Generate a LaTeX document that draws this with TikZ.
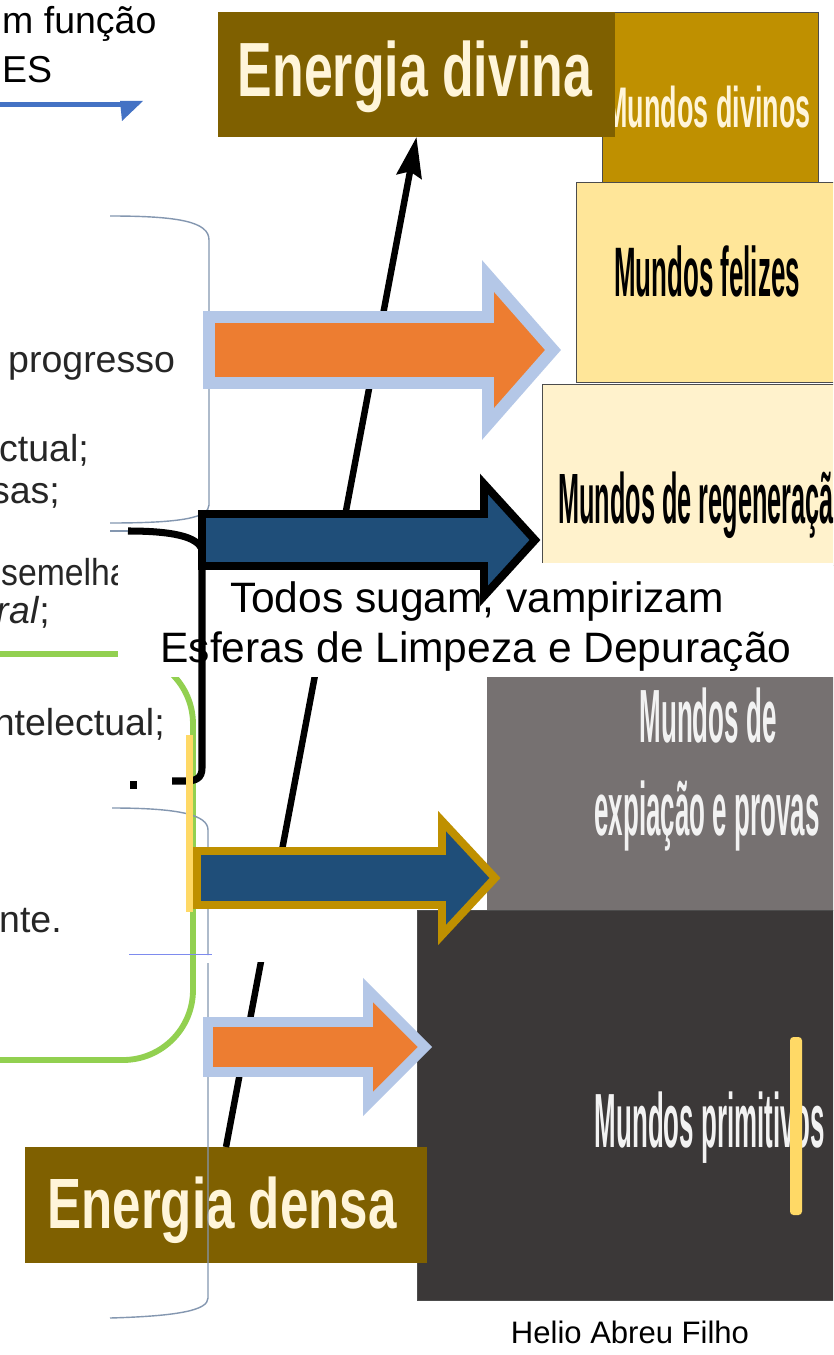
\documentclass[tikz,border=0pt]{standalone}
\usepackage{fontspec}
\setmainfont{Liberation Sans}
\usepackage{graphicx}
\usetikzlibrary{arrows.meta}

\definecolor{brownbox}{HTML}{7F6000}
\definecolor{goldbox}{HTML}{BF9000}
\definecolor{happybox}{HTML}{FFE699}
\definecolor{regenbox}{HTML}{FFF2CC}
\definecolor{expiabox}{HTML}{767171}
\definecolor{primbox}{HTML}{3B3838}
\definecolor{cream}{HTML}{FFF5D9}
\definecolor{orangefill}{HTML}{ED7D31}
\definecolor{paleblue}{HTML}{B4C7E7}
\definecolor{navyfill}{HTML}{1F4E79}
\definecolor{goldline}{HTML}{BF9000}
\definecolor{leafgreen}{HTML}{92D050}
\definecolor{bracketgray}{HTML}{8497B0}
\definecolor{markyellow}{HTML}{FFD966}
\definecolor{titleblue}{HTML}{4472C4}
\definecolor{textgray}{HTML}{262626}

\newcommand{\squeeze}[2]{\scalebox{#1}[1]{#2}}

\begin{document}
\begin{tikzpicture}[x=0.03cm, y=-0.03cm,
    worldbox/.style={inner sep=0pt, outer sep=0pt, anchor=north west, draw=black!70, line width=0.8pt},
    energybox/.style={inner sep=0pt, outer sep=0pt, anchor=north west, fill=brownbox},
    wtext/.style={inner sep=0pt, anchor=base},
    leftfrag/.style={inner sep=0pt, text=textgray, font=\fontsize{32}{36}\selectfont},
    bracketline/.style={draw=bracketgray, line width=1.2pt},
    orangeblock/.style={fill=orangefill, draw=paleblue, line join=miter},
    navyblock/.style={fill=navyfill, line join=miter, line width=6.8pt}]

    \clip (0,0) rectangle (833,1355);
    \fill[white] (0,0) rectangle (833,1355);

    % title fragment, top left
    \node[leftfrag, text=black, anchor=base west] (title1) at (2,34) {m função};
    \node[leftfrag, text=black, anchor=base west] (title2) at (2,83) {ES};
    \coordinate (tbl) at (-5,104.5);
    \coordinate (tbr) at (124,104.5);
    \draw[titleblue, line width=5pt] (tbl) -- (tbr);
    \fill[titleblue] (120,101) -- (143,101) -- (122,121) -- cycle;

    % left list fragments
    \node[leftfrag, anchor=base west] (prog) at (8,372) {progresso};
    \node[leftfrag, anchor=base east] (ctual) at (89,461) {ctual;};
    \node[leftfrag, anchor=base east] (sas) at (60,503) {sas;};
    \node[leftfrag, anchor=base west] (semelha) at (1,585) {\squeeze{0.9}{semelha}};
    \node[leftfrag, anchor=base east] (ral) at (50,623) {\textit{ral};};
    \node[leftfrag, anchor=base east] (intel) at (165,735) {ntelectual;};
    \node[leftfrag, anchor=base east] (nte) at (62,932) {nte.};

    % green frame and upper bracket
    \draw[leafgreen, line width=5pt, rounded corners=2.1cm] (-20,654) -| (193,1060) -- (-20,1060);
    \draw[bracketline] (110,216) .. controls (180,216) and (209,222) .. (209,240) -- (209,505) .. controls (209,518) and (180,523) .. (110,523);
    \draw[bracketline] (110,531) -- (130,531);

    % worlds
    \node[worldbox, fill=goldbox, minimum width=6.48cm, minimum height=5.1cm] (mdivinos) at (602,12) {};
    \node[wtext, text=cream, font=\fontsize{48.9}{52}\selectfont\bfseries] (mdivinos-t) at (708,128) {\squeeze{0.47}{Mundos divinos}};
    \node[energybox, minimum width=11.91cm, minimum height=3.75cm] (divina) at (218,12) {};
    \node[worldbox, fill=happybox, minimum width=7.92cm, minimum height=6cm] (felizes) at (576,182) {};
    \node[worldbox, fill=regenbox, minimum width=8.94cm, minimum height=5.43cm] (regen) at (542,384) {};
    \node[worldbox, fill=expiabox, draw=none, minimum width=10.59cm, minimum height=6.99cm] (expia) at (487,677) {};
    \node[worldbox, fill=primbox, minimum width=12.69cm, minimum height=11.7cm] (prim) at (417,910) {};
    \node[energybox, minimum width=12.06cm, minimum height=3.48cm] (densa) at (25,1147) {};

    \node[wtext, text=cream, font=\fontsize{65.6}{70}\selectfont\bfseries] (divina-t) at (415,97) {\squeeze{0.674}{Energia divina}};
    \node[wtext, font=\fontsize{59.8}{64}\selectfont\bfseries] (felizes-t) at (707,297) {\squeeze{0.37}{Mundos felizes}};
    \node[wtext, anchor=base west, font=\fontsize{60.8}{64}\selectfont\bfseries] (regen-t) at (558,523) {\squeeze{0.355}{Mundos de regeneração}};
    \node[wtext, text=white!95!black, font=\fontsize{64.4}{68}\selectfont\bfseries] (expia-t1) at (708,742) {\squeeze{0.344}{Mundos de}};
    \node[wtext, text=white!95!black, font=\fontsize{64.4}{68}\selectfont\bfseries] (expia-t2) at (707,835) {\squeeze{0.344}{expiação e provas}};
    \node[wtext, text=white!95!black, font=\fontsize{65.6}{70}\selectfont\bfseries] (prim-t) at (710,1147) {\squeeze{0.337}{Mundos primitivos}};
    \node[wtext, text=cream, font=\fontsize{60.8}{64}\selectfont\bfseries] (densa-t) at (222,1228) {\squeeze{0.717}{Energia densa}};

    % rising line
    \draw[line width=5.5pt, -{Stealth[length=1.2cm, width=0.75cm, inset=0.15cm]}] (densa.north) -- (divina.south);

    % white band
    \node[inner sep=0pt, anchor=north west, fill=white, minimum width=21.66cm, minimum height=3.42cm] (band) at (118,563) {};
    \node[wtext, font=\fontsize{36.3}{40}\selectfont] (sugam) at (477,612) {Todos sugam, vampirizam};
    \node[wtext, font=\fontsize{36.3}{40}\selectfont] (esferas) at (476,662) {Esferas de Limpeza e Depuração};
    \fill[white] (215,905) rectangle (300,962);

    % lower bracket
    \draw[bracketline] (112,808) .. controls (180,808) and (208,815) .. (208,830) -- (208,955);
    \draw[bracketline] (208,963) -- (208,1298) .. controls (208,1310) and (180,1316) .. (110,1318);
    \draw[paleblue!70!blue, line width=0.6pt] (129,954) -- (212,954);

    % black bracket
    \draw[line width=6pt] (128,531) .. controls (170,531) and (198,536) .. (202,550) -- (202,768) .. controls (202,778) and (196,781) .. (186,781) -- (172,781);
    \draw[line width=6pt] (130,785) -- (137,785);

    % block arrows
    \draw[orangeblock, line width=10.2pt] (209,317) -- (488,317) -- (488,276) -- (553,350) -- (488,424) -- (488,383) -- (209,383) -- cycle;
    \draw[navyblock, draw=black] (202,514) -- (484,514) -- (484,484) -- (535,540) -- (484,596) -- (484,566) -- (202,566) -- cycle;
    \draw[navyblock, draw=goldline] (197,851) -- (442,851) -- (442,821) -- (495,878) -- (442,935) -- (442,905) -- (197,905) -- cycle;
    \draw[orangeblock, line width=8.5pt] (208,1022) -- (368,1022) -- (368,990) -- (425,1047) -- (368,1104) -- (368,1072) -- (208,1072) -- cycle;

    % yellow marks
    \draw[markyellow, line width=6pt] (189.5,735) -- (189.5,912);
    \fill[markyellow, rounded corners=3pt] (790,1037) rectangle (802,1215);

    \node[wtext, font=\fontsize{26.5}{30}\selectfont] (author) at (630,1343) {Helio Abreu Filho};
\end{tikzpicture}
\end{document}
